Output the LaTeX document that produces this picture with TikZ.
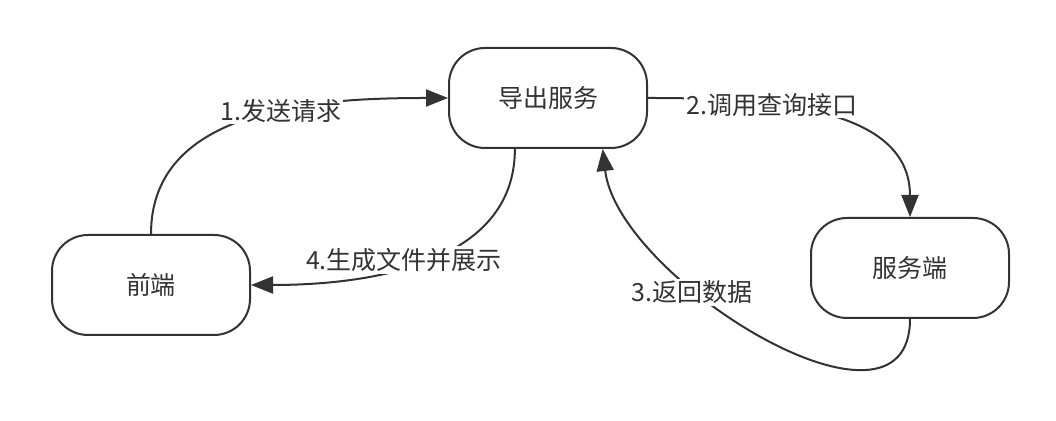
\documentclass[tikz,border=0pt]{standalone}
\usepackage{fontspec}
\setmainfont{Noto Sans CJK SC}
\usetikzlibrary{positioning,arrows.meta}
\definecolor{ink}{HTML}{333333}
\tikzset{
  proc/.style={draw=ink, line width=1pt, rounded corners=18pt, minimum width=99pt, minimum height=50pt, align=center, fill=white, text=ink},
  flow/.style={draw=ink, line width=1pt, -{Triangle[length=11pt,width=8.5pt]}},
  lbl/.style={fill=white, text=ink, inner sep=1pt},
}

\begin{document}
\begin{tikzpicture}[x=0.5pt, y=0.5pt, font=\fontsize{12.5pt}{15pt}\selectfont]
\useasboundingbox (0,0) rectangle (1056,421);

% --- the three parties ---
\node (front)  [proc] at (151,136) {前端};
\node (export) [proc, above right=42.5pt and 98.5pt of front] {导出服务};
\node (server) [proc, below right=34pt and 81pt of export] {服务端};

% --- request / query ---
\draw[flow] (front.north) to[out=90,in=180] node[lbl,pos=0.58] {1.发送请求} (export.west);
\draw[flow] (export.east) to[out=0,in=90] node[lbl,pos=0.35] {2.调用查询接口} (server.north);

% --- data back to the export service ---
\draw[flow] (server.south) .. controls +(0,-140) and +(15,-130) .. (export.317)
  node[lbl,pos=0.66,yshift=-4pt] {3.返回数据};

% --- result to the front end ---
\draw[flow] (export.237) to[out=-90,in=0] node[lbl,pos=0.57,yshift=4pt] {4.生成文件并展示} (front.east);

\end{tikzpicture}
\end{document}
